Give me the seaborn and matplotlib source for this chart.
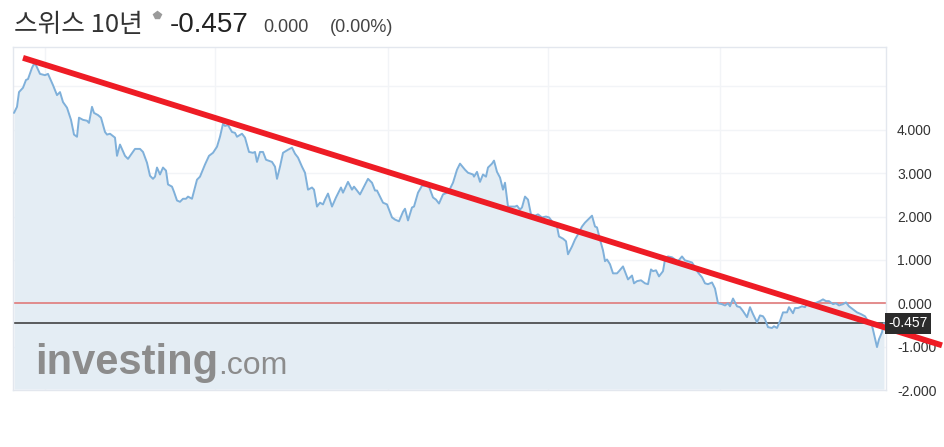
import matplotlib.pyplot as plt
import matplotlib.lines as mlines
import pandas as pd
import seaborn as sns

# trading-day offsets and yields (%)
days = [
    0, 3, 5, 9, 12, 14, 18, 20, 22, 26, 31, 34, 39, 43, 46, 49, 53, 57, 60, 63,
    65, 69, 73, 75, 78, 80, 84, 87, 91, 93, 96, 101, 103, 106, 111, 114, 121, 126, 129, 133,
    136, 139, 141, 143, 146, 149, 152, 154, 158, 160, 163, 166, 169, 172, 174, 178, 183, 186, 191, 195,
    199, 203, 206, 209, 211, 214, 218, 221, 223, 228, 231, 235, 239, 241, 243, 246, 249, 252, 258, 261,
    263, 266, 269, 274, 278, 281, 284, 288, 291, 294, 298, 300, 303, 306, 309, 311, 314, 318, 322, 327,
    329, 334, 338, 340, 346, 350, 354, 358, 361, 363, 369, 373, 378, 381, 385, 389, 391, 394, 398, 400,
    404, 408, 411, 415, 419, 422, 425, 429, 433, 436, 439, 443, 446, 451, 454, 459, 460, 463, 466, 469,
    472, 474, 478, 480, 483, 486, 489, 491, 494, 498, 501, 503, 506, 508, 511, 514, 517, 521, 524, 528,
    532, 535, 539, 543, 545, 549, 552, 554, 558, 561, 564, 568, 571, 574, 578, 581, 583, 586, 589, 591,
    593, 596, 599, 603, 605, 609, 612, 614, 618, 620, 623, 627, 631, 634, 637, 639, 642, 645, 649, 651,
    654, 658, 661, 664, 668, 671, 674, 678, 681, 684, 688, 691, 694, 698, 701, 704, 708, 711, 714, 716,
    719, 723, 726, 729, 733, 736, 739, 743, 746, 749, 751, 754, 758, 760, 763, 766, 769, 773, 775, 779,
    781, 784, 788, 791, 794, 798, 801, 806, 809, 812, 815, 819, 822, 825, 829, 832, 835, 839, 843, 847,
    851, 854, 858, 860, 863, 865, 868, 870,
]
yields = [
    4.39, 4.53, 4.87, 4.97, 5.15, 5.17, 5.43, 5.52, 5.49, 5.29, 5.26, 5.29, 5.03, 4.80, 4.87, 4.64, 4.51, 4.23, 3.89, 3.84,
    4.28, 4.23, 4.21, 4.16, 4.53, 4.39, 4.34, 4.28, 3.95, 3.89, 3.91, 3.82, 3.40, 3.66, 3.40, 3.33, 3.56, 3.56, 3.49, 3.24,
    2.94, 2.87, 2.92, 3.13, 2.97, 3.13, 3.06, 2.74, 2.69, 2.57, 2.37, 2.34, 2.41, 2.41, 2.46, 2.41, 2.85, 2.92, 3.20, 3.40,
    3.47, 3.61, 3.84, 4.14, 4.09, 4.11, 3.95, 3.93, 3.84, 3.91, 3.82, 3.49, 3.47, 3.49, 3.26, 3.49, 3.49, 3.31, 3.26, 3.15,
    2.87, 3.15, 3.47, 3.54, 3.59, 3.45, 3.36, 3.15, 3.01, 2.62, 2.67, 2.62, 2.23, 2.32, 2.28, 2.39, 2.53, 2.23, 2.44, 2.67,
    2.55, 2.80, 2.62, 2.69, 2.51, 2.69, 2.87, 2.78, 2.60, 2.60, 2.32, 2.28, 1.98, 1.93, 1.89, 2.11, 2.18, 1.91, 2.21, 2.23,
    2.55, 2.71, 2.71, 2.69, 2.44, 2.39, 2.30, 2.51, 2.55, 2.64, 2.78, 3.08, 3.22, 3.08, 3.01, 2.97, 2.92, 3.03, 2.80, 2.97,
    2.92, 3.13, 3.22, 3.29, 3.03, 2.90, 2.62, 2.78, 2.23, 2.23, 2.23, 2.25, 2.16, 2.21, 2.46, 2.39, 2.05, 2.02, 2.05, 1.98,
    2.00, 1.98, 1.86, 1.77, 1.54, 1.49, 1.43, 1.13, 1.31, 1.47, 1.59, 1.77, 1.86, 1.93, 2.02, 1.77, 1.75, 1.47, 1.22, 0.97,
    1.01, 0.90, 0.69, 0.69, 0.74, 0.85, 0.67, 0.55, 0.64, 0.46, 0.51, 0.53, 0.46, 0.44, 0.78, 0.74, 0.76, 0.62, 0.74, 1.01,
    1.08, 1.06, 1.01, 0.97, 1.08, 0.99, 0.97, 0.94, 0.83, 0.71, 0.60, 0.46, 0.44, 0.48, 0.34, 0.00, -0.02, -0.05, 0.00, -0.07,
    0.11, -0.07, -0.09, -0.18, -0.32, -0.09, -0.25, -0.44, -0.28, -0.30, -0.37, -0.55, -0.57, -0.53, -0.57, -0.41, -0.21, -0.21, -0.09, -0.23,
    -0.11, -0.11, -0.07, -0.09, 0.02, -0.07, 0.00, 0.05, 0.09, 0.05, 0.05, -0.02, 0.00, -0.05, -0.02, 0.02, -0.07, -0.14, -0.21, -0.25,
    -0.30, -0.41, -0.51, -0.71, -1.01, -0.83, -0.67, -0.457,
]
last_value = -0.457
y_ticks = [-2, -1, 0, 1, 2, 3, 4]
grid_days = [31, 201, 374, 534, 706]
trend_start = (9, 5.66)
trend_end = (928, -0.97)

df = pd.DataFrame({"day": days, "yield": yields})

sns.set_style("white")
plt.rcParams["font.family"] = ["Noto Sans CJK KR", "DejaVu Sans"]

fig = plt.figure(figsize=(9.45, 4.47), dpi=100)
ax = fig.add_axes([13 / 945, 1 - 390 / 447, 873 / 945, 343 / 447])

ax.set_xlim(-1, 872)
ax.set_ylim(-1.98, 5.91)

# faint grid
for g in range(-1, 6):
    ax.axhline(g, color="#f2f4f7", lw=1, zorder=0)
for g in grid_days:
    ax.axvline(g, color="#f2f4f7", lw=1, zorder=0)

ax.fill_between(df["day"], df["yield"], -1.98, color="#e4edf4", lw=0, zorder=1.5)
sns.lineplot(data=df, x="day", y="yield", ax=ax, color="#7fb0da", lw=1.4, zorder=3)

# watermark, drawn over the fill
ax.text(21, -1.62, "investing", fontsize=30, fontweight="bold", color="#8c8c8c",
        family=["Liberation Sans", "DejaVu Sans"], va="baseline", zorder=2.5)
ax.text(204, -1.62, ".com", fontsize=23, color="#8c8c8c",
        family=["Liberation Sans", "DejaVu Sans"], va="baseline", zorder=2.5)

ax.axhline(0, color="#e07a7a", lw=1.2, zorder=2)
ax.axhline(last_value, color="#333333", lw=1.1, zorder=2)

ax.plot([trend_start[0], trend_end[0]], [trend_start[1], trend_end[1]],
        color="#ee1c25", lw=4.2, solid_capstyle="butt", clip_on=False, zorder=5)

ax.yaxis.tick_right()
ax.set_yticks(y_ticks)
ax.set_yticklabels([f"{v:.3f}" for v in y_ticks], family=["Liberation Sans", "DejaVu Sans"])
ax.tick_params(axis="y", length=0, pad=8, labelsize=10, labelcolor="#333333")
ax.set_xticks([])
ax.set_xlabel("")
ax.set_ylabel("")
for s in ax.spines.values():
    s.set_color("#e3e7ee")
    s.set_linewidth(1)

ax.text(1.003, last_value, f"{last_value:.3f}", transform=ax.get_yaxis_transform(),
        fontsize=10, color="white", va="center", ha="left", zorder=6,
        family=["Liberation Sans", "DejaVu Sans"],
        bbox=dict(boxstyle="square,pad=0.25", fc="#2b2b2b", ec="none"))

# header
fig.text(14 / 945, 1 - 32 / 447, "스위스 10년", fontsize=18.5, color="#333333", va="baseline")
fig.add_artist(mlines.Line2D([157 / 945], [1 - 15 / 447], marker="p", markersize=6,
                             color="#9a9a9a", transform=fig.transFigure))
fig.text(170 / 945, 1 - 32 / 447, "-0.457", fontsize=20, color="#222222", va="baseline",
         family=["Liberation Sans", "DejaVu Sans"])
fig.text(263 / 945, 1 - 32 / 447, "0.000", fontsize=13, color="#444444", va="baseline",
         family=["Liberation Sans", "DejaVu Sans"])
fig.text(330 / 945, 1 - 32 / 447, "(0.00%)", fontsize=13, color="#444444", va="baseline",
         family=["Liberation Sans", "DejaVu Sans"])

fig.savefig("out.png", dpi=100, facecolor="white")
